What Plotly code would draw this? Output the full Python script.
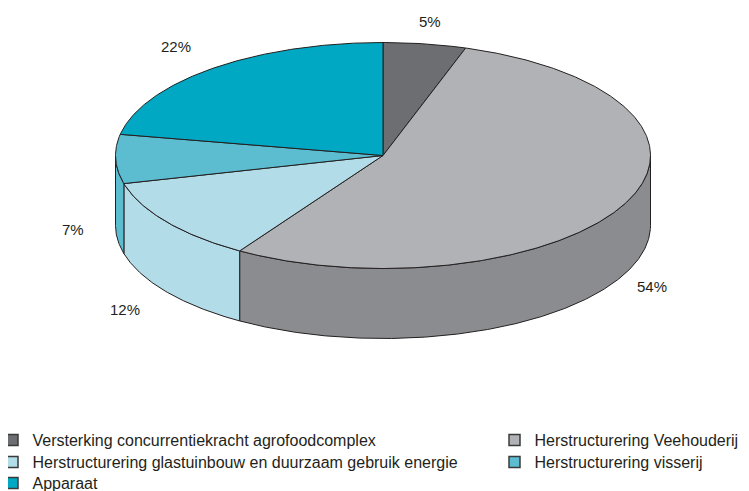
import numpy as np
import plotly.graph_objects as go

# ---- data ----
categories = [
    "Versterking concurrentiekracht agrofoodcomplex",
    "Herstructurering Veehouderij",
    "Herstructurering glastuinbouw en duurzaam gebruik energie",
    "Herstructurering visserij",
    "Apparaat",
]
values = [5, 54, 12, 7, 22]
top_colors = ["#6d6e72", "#b1b2b5", "#b1dce8", "#5cbdd0", "#00a8c3"]
side_colors = ["#58595c", "#8b8c8f", "#b1dce8", "#5cbdd0", "#00a8c3"]

# ---- layout constants (pixels) ----
W, H = 749, 491
OFF = 8  # page body margin of the browser
CX, CY, RX, RY, DEPTH = 383, 155.5, 267.5, 113, 70
EDGE = "#231f20"
FONT = "Liberation Sans, Arial, Helvetica, sans-serif"
# legend grid: (swatch centre x, row centre y) for each entry
leg_col = [18, 520, 18, 520, 18]
leg_row = [440, 440, 462, 462, 483]

total = float(sum(values))
bounds = np.concatenate([[0], np.cumsum(values)]) / total * 360.0


def arc(a0, a1, dy=0.0):
    t = np.radians(np.linspace(a0, a1, max(int(abs(a1 - a0)) * 2, 2)))
    return CX + RX * np.sin(t), CY - RY * np.cos(t) + dy


fig = go.Figure()

# side walls (front half only: angles 90..270 clockwise from top)
for i, v in enumerate(values):
    a0, a1 = bounds[i], bounds[i + 1]
    s0, s1 = max(a0, 90), min(a1, 270)
    if s1 <= s0:
        continue
    xt, yt = arc(s0, s1)
    xb, yb = arc(s0, s1, DEPTH)
    xs = np.concatenate([xt, xb[::-1], xt[:1]])
    ys = np.concatenate([yt, yb[::-1], yt[:1]])
    fig.add_trace(go.Scatter(x=xs, y=ys, mode="lines", fill="toself",
                             fillcolor=side_colors[i],
                             line=dict(color=EDGE, width=1),
                             showlegend=False, hoverinfo="skip"))

# top faces
for i, v in enumerate(values):
    a0, a1 = bounds[i], bounds[i + 1]
    xa, ya = arc(a0, a1)
    xs = np.concatenate([[CX], xa, [CX]])
    ys = np.concatenate([[CY], ya, [CY]])
    fig.add_trace(go.Scatter(x=xs, y=ys, mode="lines", fill="toself",
                             fillcolor=top_colors[i],
                             line=dict(color=EDGE, width=1),
                             name=categories[i], showlegend=False,
                             hovertemplate=f"{categories[i]}: {v}%<extra></extra>"))

# percentage labels, placed outside the rim at the slice's mid-angle
G = 30
for i, v in enumerate(values):
    mid = np.radians((bounds[i] + bounds[i + 1]) / 2)
    s, c = np.sin(mid), np.cos(mid)
    gy = G * (1 - 0.27 * max(c, 0) ** 8)
    px = CX + (RX + G) * s
    py = CY - (RY + gy) * c + (DEPTH if c < 0 else 0)
    anchor = "right" if s < -0.3 else "center"
    fig.add_annotation(x=px, y=py, text=f"{v}%", showarrow=False,
                       xanchor=anchor, yanchor="middle",
                       font=dict(size=15, color=EDGE, family=FONT))

# legend entries: one small legend per entry to reproduce the 2-column grid
legends = {}
for i, name in enumerate(categories):
    key = "legend" if i == 0 else f"legend{i + 1}"
    fig.add_trace(go.Scatter(x=[None], y=[None], mode="markers", name=name,
                             legend=key,
                             marker=dict(symbol="square", size=11,
                                         color=top_colors[i],
                                         line=dict(color="#3a3a3a", width=1.5))))
    lx = leg_col[i] - 5.5 - 20 - OFF
    ly = leg_row[i] - 17 - OFF
    legends[key] = dict(
        x=lx / W, y=1 - ly / H, xanchor="left", yanchor="top",
        orientation="v", bgcolor="rgba(0,0,0,0)", itemwidth=30,
        font=dict(size=16, color=EDGE, family=FONT),
        itemclick=False, itemdoubleclick=False,
    )

fig.update_layout(
    width=W, height=H,
    margin=dict(l=0, r=0, t=0, b=0, autoexpand=False),
    paper_bgcolor="white", plot_bgcolor="white",
    xaxis=dict(range=[OFF, W + OFF], visible=False, fixedrange=True),
    yaxis=dict(range=[H + OFF, OFF], visible=False, fixedrange=True),
    showlegend=True,
    **legends,
)

fig.write_html("out.html")
